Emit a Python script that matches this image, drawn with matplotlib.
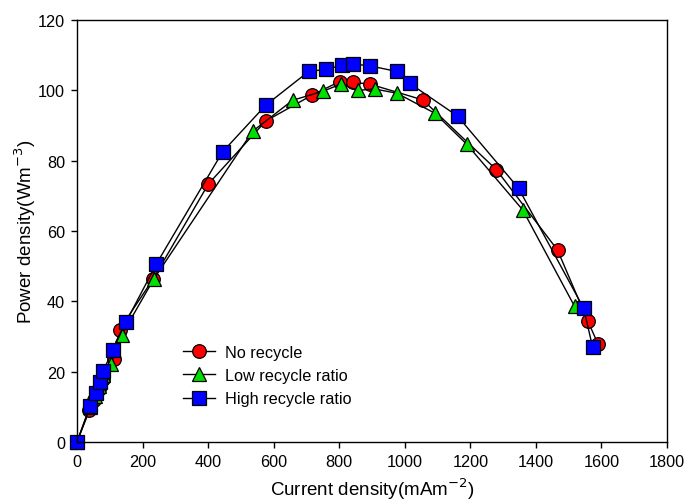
import matplotlib.pyplot as plt

plt.rcParams['font.family'] = ['Liberation Sans', 'DejaVu Sans']

# No recycle
red_x = [0, 38, 52, 66, 80, 112, 130, 232, 401, 576, 718, 801, 841, 893, 1055, 1279, 1466, 1559, 1589]
red_y = [0, 9, 12, 15, 18, 23.5, 32, 46.3, 73.4, 91.3, 98.7, 102.5, 102.3, 101.8, 97.3, 77.5, 54.6, 34.3, 28]

# Low recycle ratio
green_x = [0, 40, 54, 68, 80, 104, 137, 234, 536, 658, 752, 805, 856, 908, 976, 1092, 1189, 1360, 1518]
green_y = [0, 10, 13, 16, 19, 22.3, 30.5, 46.3, 88.4, 97.2, 99.8, 101.8, 100, 100.4, 99.2, 93.5, 84.7, 66, 38.6]

# High recycle ratio
blue_x = [0, 40, 57, 69, 80, 109, 150, 242, 444, 576, 707, 761, 810, 842, 893, 975, 1015, 1161, 1347, 1546, 1573]
blue_y = [0, 10.3, 13.9, 17, 20.2, 26.1, 34.2, 50.6, 82.5, 95.8, 105.4, 106, 107.2, 107.5, 107, 105.4, 102, 92.7, 72.2, 38, 27]

fig = plt.figure(figsize=(6.86, 5.02), dpi=100)
ax = fig.add_axes([0.1122, 0.1175, 0.8601, 0.8405])

common = dict(color='black', linewidth=1.0, markeredgecolor='black',
              markeredgewidth=0.9, markersize=9.8, clip_on=False)
ax.plot(red_x, red_y, marker='o', markerfacecolor='#ff0000', label='No recycle', **common)
ax.plot(green_x, green_y, marker='^', markerfacecolor='#00e000', label='Low recycle ratio', **common)
ax.plot(blue_x, blue_y, marker='s', markerfacecolor='#0000ff', label='High recycle ratio', **common)

ax.set_xlim(0, 1800)
ax.set_ylim(0, 120)
ax.set_xticks(range(0, 1801, 200))
ax.set_yticks(range(0, 121, 20))
ax.tick_params(direction='out', length=4.5, width=1, labelsize=11.7, pad=4,
               top=False, right=False)
for s in ax.spines.values():
    s.set_linewidth(1.0)

ax.set_xlabel('Current density(mAm$^{-2}$)', fontsize=13.5, labelpad=5)
ax.set_ylabel('Power density(Wm$^{-3}$)', fontsize=13.5, labelpad=0)

ax.legend(loc='upper left', bbox_to_anchor=(0.245, 0.34), bbox_transform=fig.transFigure,
          frameon=False, fontsize=11.7, handlelength=2.0, labelspacing=0.5,
          handletextpad=0.6)

fig.savefig('out.png', dpi=100, facecolor='white')
